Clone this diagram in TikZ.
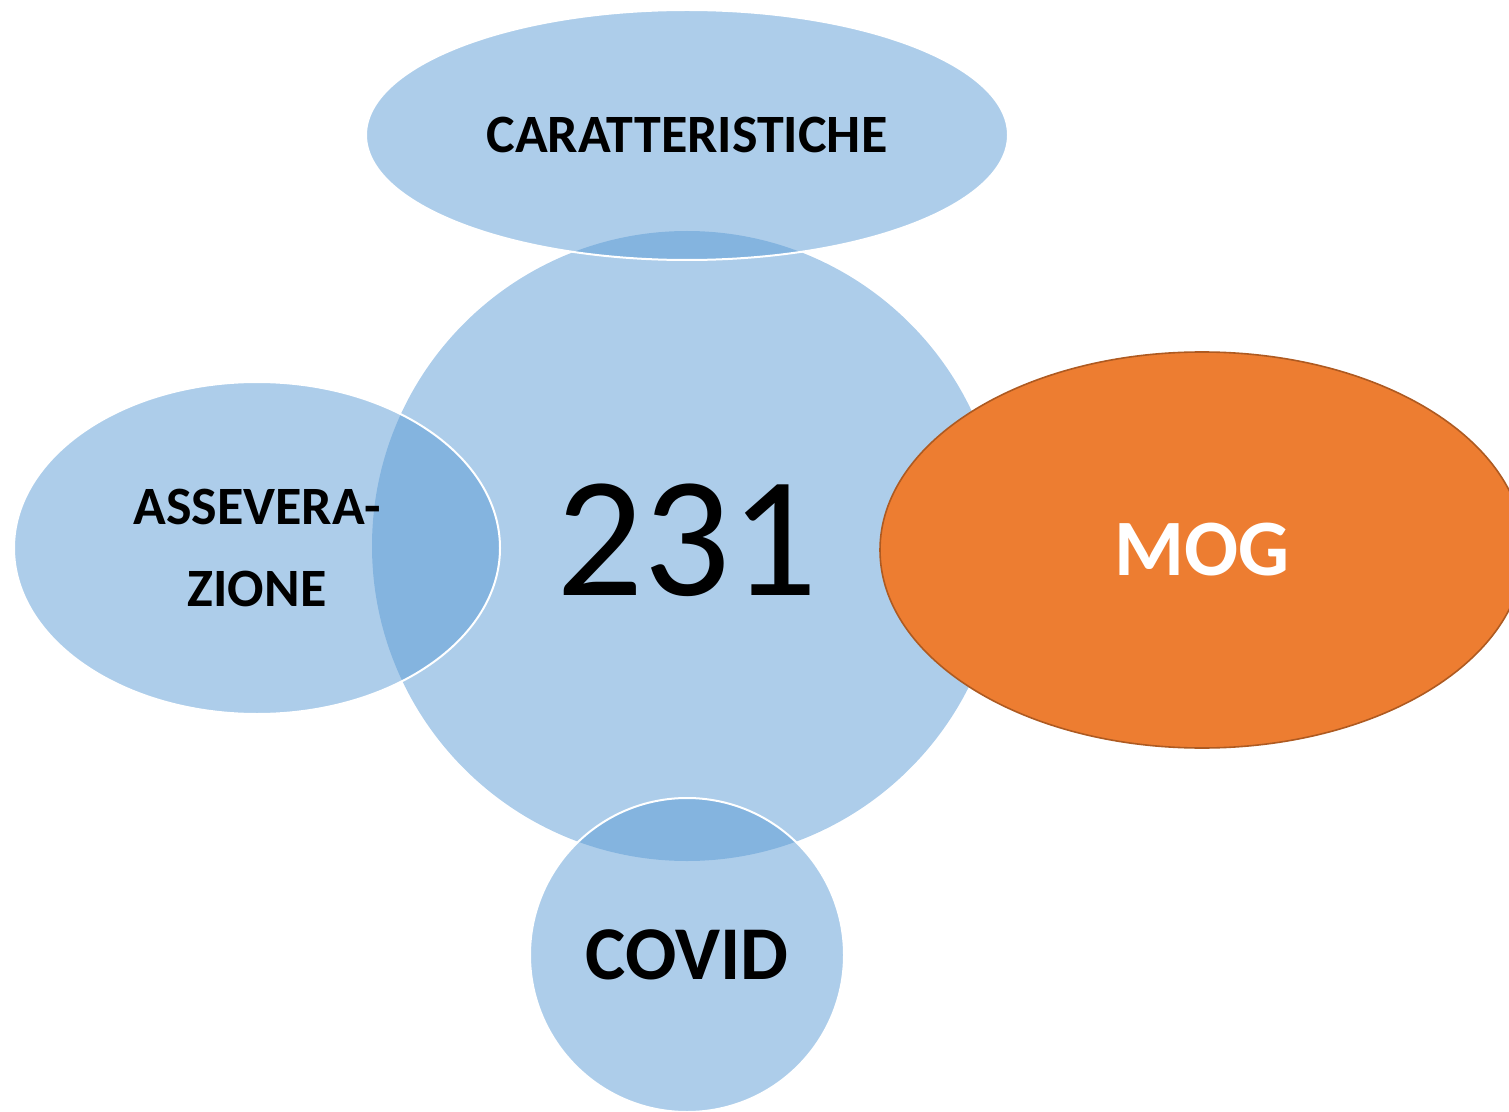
\documentclass[tikz,border=0pt]{standalone}
\usepackage{fontspec}
\setmainfont{Carlito}
\usetikzlibrary{shapes.geometric, positioning}
\definecolor{venblue}{HTML}{5B9BD5}
\definecolor{venorange}{HTML}{ED7D31}
\definecolor{venorangedark}{HTML}{AE5A21}
\tikzstyle{core} = [circle, inner sep=0pt, fill=venblue, fill opacity=0.5, text opacity=1, draw=none]
\tikzstyle{petal} = [ellipse, inner sep=0pt, fill=venblue, fill opacity=0.5, text opacity=1, draw=white, line width=1pt, text centered]
\tikzstyle{accent} = [ellipse, inner sep=0pt, fill=venorange, draw=venorangedark, line width=0.8pt, text=white]

\begin{document}
\begin{tikzpicture}[x=0.5pt, y=-0.5pt]

\clip (0,0) rectangle (1509,1112);

\node (centre) [core, minimum size=315pt] at (687,546) {};
\node (caratt) [petal, minimum width=321pt, minimum height=125pt, font=\bfseries\fontsize{27}{30}\selectfont] at (687,135) {CARATTERISTICHE};
\node (assev) [petal, minimum width=243pt, minimum height=166pt, align=center, font=\bfseries\fontsize{27}{41}\selectfont] at (257,548) {ASSEVERA-\\ZIONE};
\node (covid) [petal, circle, minimum size=157pt, font=\bfseries\fontsize{38}{38}\selectfont] at (687,955) {COVID};
\node (mog) [accent, minimum width=322pt, minimum height=198pt, font=\bfseries\fontsize{40}{40}\selectfont] at (1202,550) {MOG};
\node (count) [font=\fontsize{86}{86}\selectfont] at (centre.center) [yshift=3pt] {231};

\end{tikzpicture}
\end{document}
